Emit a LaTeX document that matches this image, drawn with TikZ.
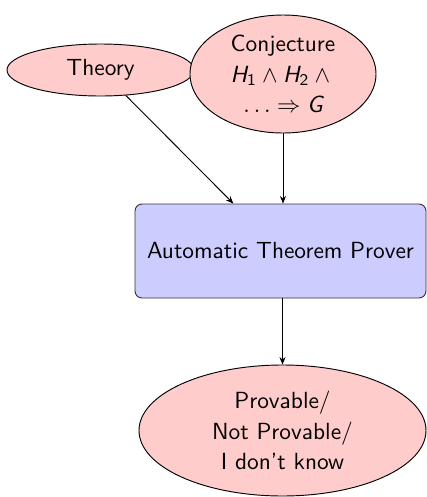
\documentclass[tikz,border=0pt]{standalone}
\usetikzlibrary{shapes.geometric,arrows.meta}
\begin{document}
\begin{tikzpicture}[x=0.428pt,y=-0.428pt,
  every node/.style={font=\sffamily\fontsize{10}{13}\selectfont},
  ell/.style={ellipse,draw=black,fill=red!20,inner sep=0pt},
  atpbox/.style={rectangle,draw=black!80,fill=blue!20,rounded corners=3pt,inner sep=0pt},
  txt/.style={align=center,inner sep=0pt},
  arr/.style={-{Stealth[length=3.2pt,width=2.6pt]},line width=0.4pt}]
\useasboundingbox (0,0) rectangle (427,497);
\node[ell,minimum width=187*0.428pt,minimum height=52*0.428pt] (theory) at (100.5,70) {};
\node[txt] (theorytxt) at (theory) {Theory};
\node[ell,minimum width=186*0.428pt,minimum height=118*0.428pt] (conj) at (283,74) {};
\node[txt] (conjtxt) at (conj) {Conjecture\\$\textit{H}_{\mathsf{1}}\wedge\textit{H}_{\mathsf{2}}\wedge{}$\\$\ldots\Rightarrow\textit{G}$};
\node[atpbox,minimum width=291*0.428pt,minimum height=94*0.428pt] (atp) at (280.5,251) {};
\node[txt] (atptxt) at (atp) {Automatic Theorem Prover};
\node[ell,minimum width=287*0.428pt,minimum height=131*0.428pt] (res) at (282.5,430.5) {};
\node[txt] (restxt) at (res) {Provable/\\Not Provable/\\I don't know};
\draw[arr] (theory) -- (atp);
\draw[arr] (conj.south) -- (conj.south |- atp.north);
\draw[arr] (atp.south -| res.north) -- (res.north);
\end{tikzpicture}
\end{document}
